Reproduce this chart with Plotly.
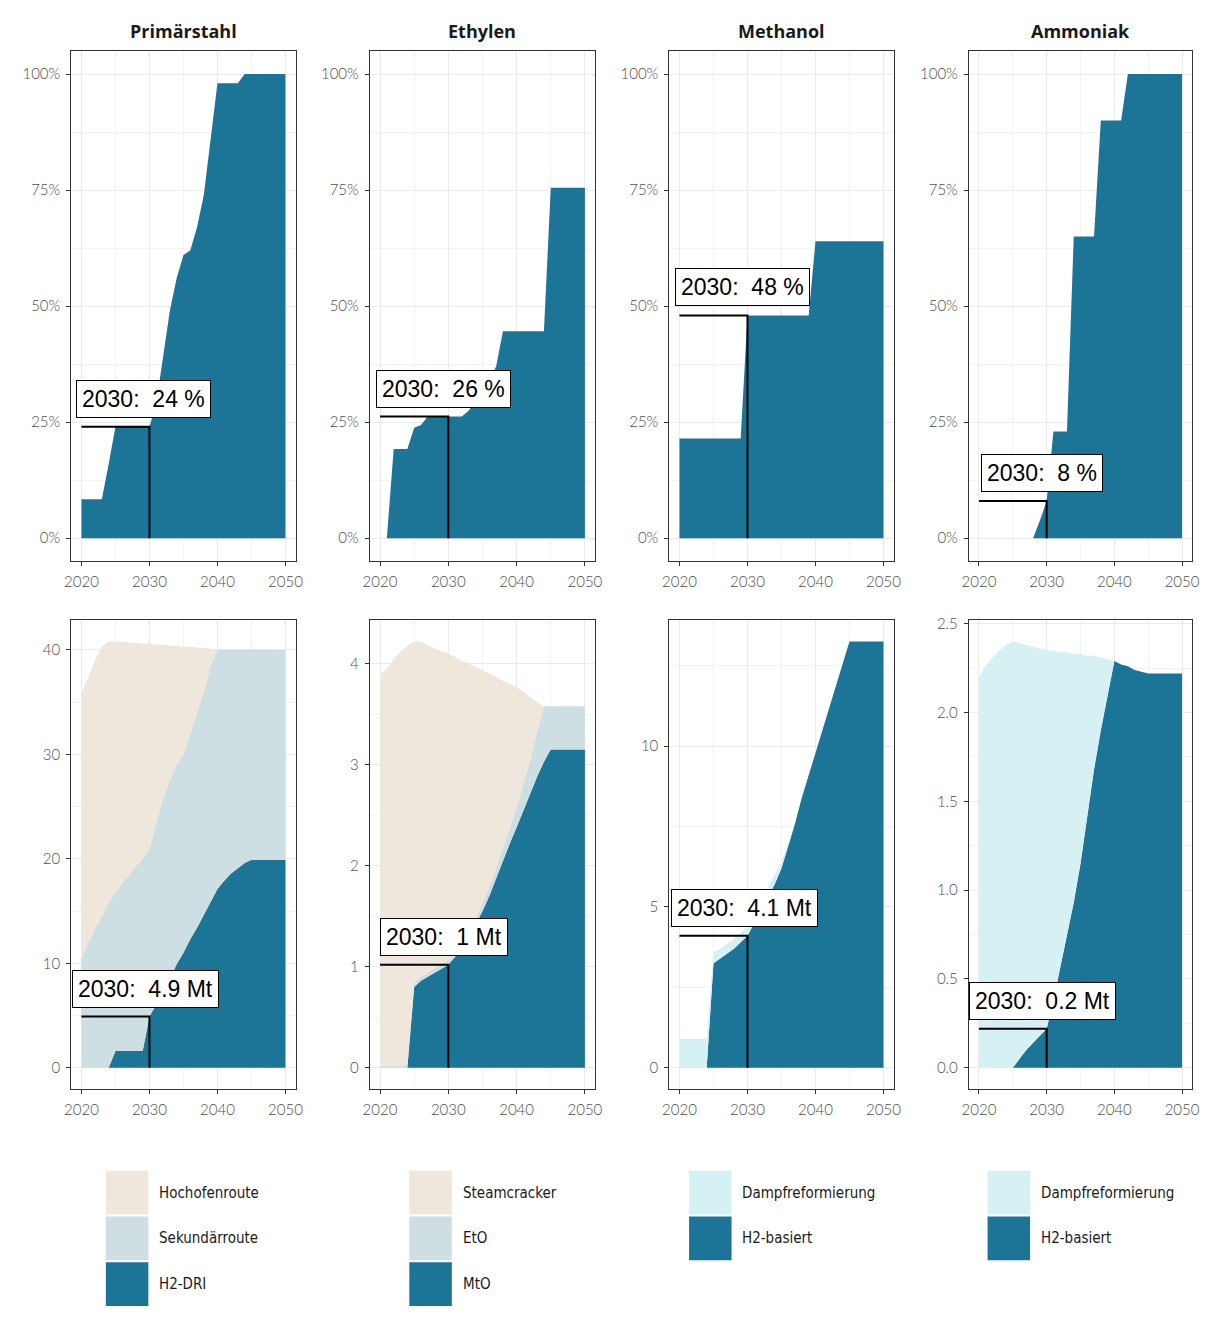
import plotly.graph_objects as go

W, H = 1216, 1318
years = list(range(2020, 2051))

# ---------------- data ----------------
products = ["Primärstahl", "Ethylen", "Methanol", "Ammoniak"]

# top row: share of H2-based production (%)
share_primaerstahl = [8.4, 8.4, 8.4, 8.4, 16, 24, 24, 24, 24, 24, 24,
                      29, 39, 49, 56, 61, 62, 67, 74, 86, 98,
                      98, 98, 98, 100, 100, 100, 100, 100, 100, 100]
share_ethylen = [0, 0, 19.2, 19.2, 19.2, 23.8, 24.4, 26.2, 26.2, 26.2, 26.2,
                 26.2, 26.2, 27.5, 29.5, 31.5, 34, 37, 44.6, 44.6, 44.6,
                 44.6, 44.6, 44.6, 44.6, 75.5, 75.5, 75.5, 75.5, 75.5, 75.5]
share_methanol = [21.5, 21.5, 21.5, 21.5, 21.5, 21.5, 21.5, 21.5, 21.5, 21.5, 48,
                  48, 48, 48, 48, 48, 48, 48, 48, 48, 64,
                  64, 64, 64, 64, 64, 64, 64, 64, 64, 64]
share_ammoniak = [0, 0, 0, 0, 0, 0, 0, 0, 0, 3.8, 8,
                  23, 23, 23, 65, 65, 65, 65, 90, 90, 90,
                  90, 100, 100, 100, 100, 100, 100, 100, 100, 100]

# bottom row: production by route (Mt)
stahl_h2dri = [0, 0, 0, 0, 0, 1.6, 1.6, 1.6, 1.6, 1.6, 4.9,
               6.0, 7.2, 8.5, 9.9, 11.0, 12.3, 13.4, 14.6, 15.8, 17.1,
               17.9, 18.6, 19.1, 19.6, 19.9, 19.9, 19.9, 19.9, 19.9, 19.9]
stahl_sekundaer = [10.5, 12.0, 13.3, 14.6, 15.8, 15.2, 16.1, 16.9, 17.7, 18.4, 16.1,
                   17.5, 18.6, 19.0, 19.1, 19.0, 19.7, 20.6, 21.4, 22.7, 22.9,
                   22.1, 21.4, 20.9, 20.4, 20.1, 20.1, 20.1, 20.1, 20.1, 20.1]
stahl_hochofen = [25.3, 25.5, 25.7, 25.7, 25.0, 24.0, 23.1, 22.2, 21.4, 20.6, 19.6,
                  17.0, 14.7, 12.9, 11.4, 10.3, 8.3, 6.2, 4.2, 1.6, 0,
                  0, 0, 0, 0, 0, 0, 0, 0, 0, 0]

ethylen_mto = [0, 0, 0, 0, 0, 0.8, 0.86, 0.9, 0.94, 0.98, 1.02,
               1.1, 1.2, 1.3, 1.42, 1.55, 1.7, 1.88, 2.05, 2.22, 2.38,
               2.55, 2.72, 2.88, 3.03, 3.15, 3.15, 3.15, 3.15, 3.15, 3.15]
ethylen_eto = [0.02, 0.02, 0.02, 0.02, 0.03, 0.04, 0.04, 0.04, 0.05, 0.05, 0.05,
               0.05, 0.06, 0.06, 0.07, 0.08, 0.09, 0.1, 0.12, 0.15, 0.2,
               0.26, 0.33, 0.45, 0.55, 0.43, 0.43, 0.43, 0.43, 0.43, 0.43]
ethylen_steamcracker = [3.88, 3.93, 4.03, 4.10, 4.15, 3.38, 3.32, 3.24, 3.16, 3.09, 3.03,
                        2.92, 2.77, 2.64, 2.48, 2.31, 2.11, 1.89, 1.66, 1.43, 1.19,
                        0.91, 0.62, 0.29, 0, 0, 0, 0, 0, 0, 0]

methanol_h2 = [0, 0, 0, 0, 0, 3.25, 3.4, 3.55, 3.7, 3.9, 4.1,
               4.5, 4.9, 5.3, 5.7, 6.2, 6.9, 7.6, 8.4, 9.1, 9.8,
               10.5, 11.2, 11.9, 12.6, 13.25, 13.25, 13.25, 13.25, 13.25, 13.25]
methanol_dampf = [0.9, 0.9, 0.9, 0.9, 0.9, 0.35, 0.3, 0.3, 0.3, 0.3, 0.3,
                  0.3, 0.3, 0.3, 0.3, 0.2, 0.1, 0, 0, 0, 0,
                  0, 0, 0, 0, 0, 0, 0, 0, 0, 0]

ammoniak_h2 = [0, 0, 0, 0, 0, 0, 0.05, 0.1, 0.14, 0.18, 0.22,
               0.38, 0.56, 0.75, 0.93, 1.15, 1.42, 1.68, 1.9, 2.1, 2.29,
               2.27, 2.26, 2.24, 2.23, 2.22, 2.22, 2.22, 2.22, 2.22, 2.22]
ammoniak_dampf = [2.2, 2.26, 2.31, 2.35, 2.38, 2.4, 2.34, 2.28, 2.23, 2.18, 2.13,
                  1.97, 1.78, 1.59, 1.4, 1.18, 0.9, 0.64, 0.41, 0.2, 0,
                  0, 0, 0, 0, 0, 0, 0, 0, 0, 0]

x_ticks = [2020, 2030, 2040, 2050]
share_ticks = [0, 25, 50, 75, 100]
share_ticktext = ["0%", "25%", "50%", "75%", "100%"]
mt_dticks = [10, 1, 5, 0.5]

# ---------------- styles ----------------
DARK = "#1c7597"
BEIGE = "#f0e7dc"
GREYBLUE = "#cddfe3"
CYAN = "#d6f1f4"

shares = [share_primaerstahl, share_ethylen, share_methanol, share_ammoniak]
stacks = [
    [("H2-DRI", stahl_h2dri, DARK), ("Sekundärroute", stahl_sekundaer, GREYBLUE),
     ("Hochofenroute", stahl_hochofen, BEIGE)],
    [("MtO", ethylen_mto, DARK), ("EtO", ethylen_eto, GREYBLUE),
     ("Steamcracker", ethylen_steamcracker, BEIGE)],
    [("H2-basiert", methanol_h2, DARK), ("Dampfreformierung", methanol_dampf, CYAN)],
    [("H2-basiert", ammoniak_h2, DARK), ("Dampfreformierung", ammoniak_dampf, CYAN)],
]

col_px = [(65, 292), (367, 595), (670, 897), (973, 1199)]
row_px = [(45, 558), (617, 1088)]
label_xshift = [[-5, -4, -4, 2], [-9, 0, -8, -10]]

TICKFONT = dict(family="Lato, Noto Sans, sans-serif", size=15, color="#4d4d4d",
                weight=300)
LABELFONT = dict(family="Liberation Sans, Arial, sans-serif", size=23, color="black")
LEGFONT = dict(family="Liberation Sans Narrow, DejaVu Sans Condensed, sans-serif",
               size=15, color="#1a1a1a")


def pxx(x):
    return x / W


def pxy(y):
    return 1 - y / H


fig = go.Figure()
annotations = []
shapes = []

for r in range(2):
    for c in range(4):
        i = r * 4 + c + 1
        xn = "x" if i == 1 else f"x{i}"
        yn = "y" if i == 1 else f"y{i}"
        xk = "xaxis" if i == 1 else f"xaxis{i}"
        yk = "yaxis" if i == 1 else f"yaxis{i}"

        common = dict(showline=True, mirror=True, linecolor="#333333", linewidth=1,
                      ticks="outside", ticklen=4, tickcolor="#333333", tickwidth=1,
                      showgrid=True, gridcolor="#ebebeb", gridwidth=1, zeroline=False,
                      tickfont=TICKFONT, ticklabelstandoff=3)

        fig.layout[xk] = dict(common, domain=[pxx(col_px[c][0]), pxx(col_px[c][1])],
                              anchor=yn, range=[2018.5, 2051.5], tickvals=x_ticks,
                              minor=dict(dtick=5, tick0=2020, showgrid=True,
                                         gridcolor="#f4f4f4", gridwidth=1))

        if r == 0:
            vals = shares[c]
            fig.add_trace(go.Scatter(x=years, y=vals, mode="lines", fill="tozeroy",
                                     fillcolor=DARK, line=dict(color=DARK, width=0),
                                     xaxis=xn, yaxis=yn, showlegend=False,
                                     name=products[c]))
            yrange = [-5, 105]
            fig.layout[yk] = dict(common, domain=[pxy(row_px[r][1]), pxy(row_px[r][0])],
                                  anchor=xn, range=yrange, tickmode="array",
                                  tickvals=share_ticks, ticktext=share_ticktext,
                                  minor=dict(dtick=12.5, tick0=0, showgrid=True,
                                             gridcolor="#f4f4f4", gridwidth=1))
            v = vals[years.index(2030)]
            text = f"2030: \u00a0{round(v)} %"
        else:
            total = [0.0] * len(years)
            for name, vals, col in stacks[c]:
                fig.add_trace(go.Scatter(x=years, y=vals, mode="lines",
                                         stackgroup=f"g{c}", fillcolor=col,
                                         line=dict(color=col, width=0),
                                         xaxis=xn, yaxis=yn, showlegend=False,
                                         name=name))
                total = [a + b for a, b in zip(total, vals)]
            ymax = max(total)
            yrange = [-0.05 * ymax, 1.05 * ymax]
            dt = mt_dticks[c]
            fig.layout[yk] = dict(common, domain=[pxy(row_px[r][1]), pxy(row_px[r][0])],
                                  anchor=xn, range=yrange, dtick=dt, tick0=0,
                                  tickformat=".1f" if dt < 1 else "d",
                                  minor=dict(dtick=dt / 2, tick0=0, showgrid=True,
                                             gridcolor="#f4f4f4", gridwidth=1))
            v = stacks[c][0][1][years.index(2030)]
            text = f"2030: \u00a0{round(v, 1):g} Mt"

        # reference lines at 2030
        fig.add_trace(go.Scatter(x=[2020, 2030, 2030], y=[v, v, 0], mode="lines",
                                 line=dict(color="black", width=2),
                                 xaxis=xn, yaxis=yn, showlegend=False,
                                 hoverinfo="skip"))
        annotations.append(dict(x=2020, y=v, xref=xn, yref=yn, text=text,
                                showarrow=False, xanchor="left", yanchor="bottom",
                                xshift=label_xshift[r][c], yshift=9,
                                font=LABELFONT, bgcolor="white", bordercolor="black",
                                borderwidth=1, borderpad=5))

# column titles
for c, p in enumerate(products):
    annotations.append(dict(x=pxx((col_px[c][0] + col_px[c][1]) / 2), y=pxy(25),
                            xref="paper", yref="paper", text=f"<b>{p}</b>",
                            showarrow=False, xanchor="center", yanchor="middle",
                            font=dict(family="Open Sans, Noto Sans, sans-serif",
                                      size=18, color="#1a1a1a")))

# legends (one per column)
legend_items = [
    [("Hochofenroute", BEIGE), ("Sekundärroute", GREYBLUE), ("H2-DRI", DARK)],
    [("Steamcracker", BEIGE), ("EtO", GREYBLUE), ("MtO", DARK)],
    [("Dampfreformierung", CYAN), ("H2-basiert", DARK)],
    [("Dampfreformierung", CYAN), ("H2-basiert", DARK)],
]
key_x = [100, 407, 690, 992]
for c, items in enumerate(legend_items):
    for k, (lab, col) in enumerate(items):
        y0 = 1170 + k * 46
        shapes.append(dict(type="rect", xref="paper", yref="paper",
                           x0=pxx(key_x[c]), x1=pxx(key_x[c] + 43),
                           y0=pxy(y0 + 44), y1=pxy(y0), fillcolor=col,
                           line=dict(width=0)))
        annotations.append(dict(x=pxx(key_x[c] + 52), y=pxy(y0 + 22),
                                xref="paper", yref="paper", text=lab,
                                showarrow=False, xanchor="left", yanchor="middle",
                                font=LEGFONT))

fig.update_layout(width=W, height=H, autosize=False,
                  margin=dict(l=0, r=0, t=0, b=0),
                  paper_bgcolor="white", plot_bgcolor="white",
                  annotations=annotations, shapes=shapes, showlegend=False)

fig.write_html("out.html", config={"displayModeBar": False},
               post_script="document.body.style.margin='0';"
                           "document.body.style.overflow='hidden';")
